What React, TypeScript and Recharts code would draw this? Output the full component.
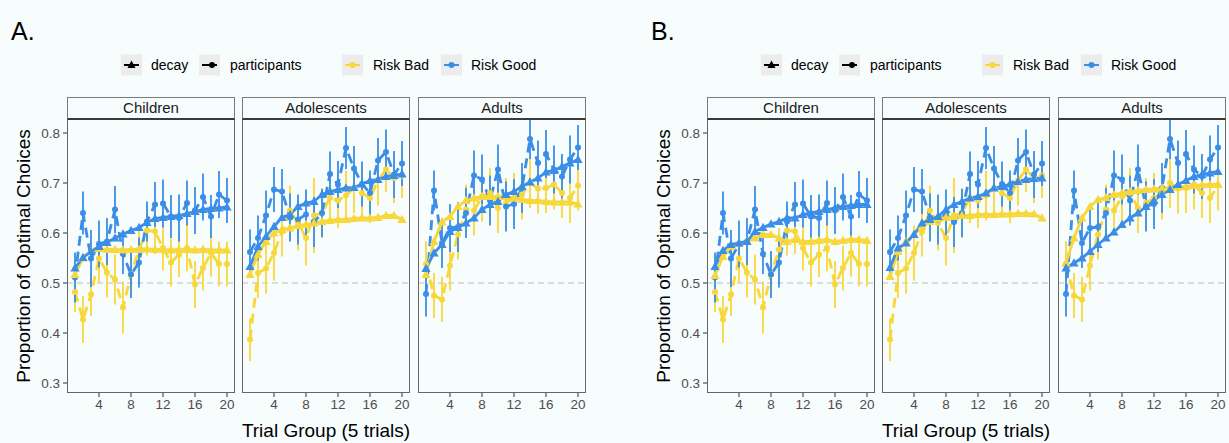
import React from 'react';
import { ComposedChart, Line, XAxis, YAxis, ErrorBar, ReferenceLine } from 'recharts';

const trialGroups = [1, 2, 3, 4, 5, 6, 7, 8, 9, 10, 11, 12, 13, 14, 15, 16, 17, 18, 19, 20];
const xTicks = [4, 8, 12, 16, 20];
const yTicks = [0.3, 0.4, 0.5, 0.6, 0.7, 0.8];
const facetNames = ['Children', 'Adolescents', 'Adults'];

// observed proportions (participants), same in both panels
const childrenGoodObs = [0.511, 0.64, 0.549, 0.578, 0.583, 0.647, 0.558, 0.517, 0.541, 0.623, 0.657, 0.659, 0.633, 0.63, 0.66, 0.645, 0.672, 0.633, 0.677, 0.665];
const childrenGoodErr = [0.05, 0.043, 0.057, 0.047, 0.047, 0.047, 0.04, 0.047, 0.05, 0.04, 0.045, 0.048, 0.043, 0.047, 0.045, 0.047, 0.047, 0.043, 0.047, 0.045];
const childrenBadObs = [0.482, 0.427, 0.477, 0.549, 0.521, 0.507, 0.451, 0.517, 0.567, 0.605, 0.603, 0.57, 0.541, 0.557, 0.57, 0.497, 0.53, 0.56, 0.538, 0.538];
const childrenBadErr = [0.04, 0.047, 0.043, 0.047, 0.05, 0.05, 0.052, 0.047, 0.043, 0.05, 0.045, 0.045, 0.048, 0.045, 0.047, 0.047, 0.045, 0.047, 0.045, 0.045];

const adolGoodObs = [0.562, 0.59, 0.635, 0.687, 0.683, 0.631, 0.627, 0.637, 0.622, 0.64, 0.718, 0.697, 0.77, 0.729, 0.698, 0.68, 0.745, 0.762, 0.717, 0.739];
const adolGoodErr = [0.045, 0.045, 0.05, 0.045, 0.045, 0.048, 0.05, 0.05, 0.05, 0.048, 0.045, 0.047, 0.042, 0.045, 0.045, 0.045, 0.045, 0.045, 0.047, 0.045];
const adolBadObs = [0.387, 0.52, 0.529, 0.56, 0.603, 0.645, 0.62, 0.59, 0.635, 0.64, 0.67, 0.665, 0.675, 0.69, 0.68, 0.67, 0.705, 0.727, 0.71, 0.715];
const adolBadErr = [0.043, 0.05, 0.05, 0.055, 0.05, 0.05, 0.055, 0.055, 0.075, 0.05, 0.05, 0.055, 0.05, 0.05, 0.05, 0.05, 0.05, 0.045, 0.05, 0.045];

const adultsGoodObs = [0.478, 0.685, 0.58, 0.61, 0.612, 0.64, 0.715, 0.707, 0.665, 0.727, 0.653, 0.658, 0.69, 0.788, 0.74, 0.758, 0.727, 0.713, 0.747, 0.771];
const adultsGoodErr = [0.045, 0.04, 0.05, 0.048, 0.05, 0.05, 0.05, 0.05, 0.05, 0.05, 0.05, 0.05, 0.05, 0.04, 0.045, 0.048, 0.048, 0.045, 0.048, 0.045];
const adultsBadObs = [0.538, 0.475, 0.467, 0.535, 0.597, 0.647, 0.645, 0.673, 0.68, 0.65, 0.66, 0.67, 0.677, 0.7, 0.689, 0.69, 0.697, 0.68, 0.67, 0.695];
const adultsBadErr = [0.045, 0.045, 0.045, 0.05, 0.05, 0.05, 0.05, 0.05, 0.05, 0.05, 0.05, 0.05, 0.05, 0.05, 0.05, 0.05, 0.05, 0.05, 0.05, 0.05];

// decay model, panel A
const decayAChildrenGood = [0.53, 0.551, 0.563, 0.573, 0.581, 0.59, 0.598, 0.605, 0.611, 0.621, 0.629, 0.631, 0.633, 0.635, 0.639, 0.643, 0.647, 0.649, 0.65, 0.652];
const decayAChildrenBad = [0.517, 0.55, 0.563, 0.569, 0.567, 0.567, 0.566, 0.567, 0.567, 0.568, 0.567, 0.567, 0.566, 0.567, 0.567, 0.566, 0.567, 0.566, 0.566, 0.566];
const decayAAdolGood = [0.533, 0.573, 0.593, 0.613, 0.631, 0.637, 0.653, 0.66, 0.663, 0.677, 0.683, 0.687, 0.69, 0.691, 0.698, 0.705, 0.707, 0.713, 0.715, 0.718];
const decayAAdolBad = [0.517, 0.557, 0.583, 0.6, 0.607, 0.61, 0.615, 0.617, 0.62, 0.623, 0.625, 0.627, 0.627, 0.629, 0.63, 0.63, 0.631, 0.635, 0.635, 0.627];
const decayAAdultsGood = [0.529, 0.56, 0.577, 0.603, 0.611, 0.62, 0.63, 0.647, 0.657, 0.663, 0.677, 0.683, 0.693, 0.702, 0.71, 0.722, 0.725, 0.733, 0.74, 0.747];
const decayAAdultsBad = [0.517, 0.583, 0.622, 0.633, 0.653, 0.665, 0.67, 0.673, 0.673, 0.673, 0.673, 0.67, 0.667, 0.665, 0.665, 0.663, 0.662, 0.662, 0.662, 0.658];

// decay model, panel B
const decayBChildrenGood = [0.533, 0.565, 0.577, 0.58, 0.583, 0.603, 0.611, 0.618, 0.623, 0.63, 0.63, 0.637, 0.64, 0.643, 0.647, 0.65, 0.653, 0.655, 0.657, 0.657];
const decayBChildrenBad = [0.515, 0.553, 0.573, 0.58, 0.583, 0.59, 0.597, 0.597, 0.59, 0.583, 0.587, 0.583, 0.583, 0.585, 0.587, 0.583, 0.585, 0.587, 0.587, 0.585];
const decayBAdolGood = [0.531, 0.57, 0.58, 0.597, 0.62, 0.627, 0.633, 0.647, 0.657, 0.663, 0.67, 0.673, 0.68, 0.69, 0.693, 0.698, 0.703, 0.707, 0.709, 0.71];
const decayBAdolBad = [0.513, 0.563, 0.583, 0.597, 0.613, 0.623, 0.629, 0.631, 0.633, 0.635, 0.635, 0.637, 0.637, 0.637, 0.638, 0.638, 0.639, 0.639, 0.638, 0.63];
const decayBAdultsGood = [0.53, 0.54, 0.55, 0.563, 0.577, 0.59, 0.602, 0.617, 0.63, 0.64, 0.653, 0.665, 0.677, 0.687, 0.697, 0.705, 0.713, 0.717, 0.72, 0.723];
const decayBAdultsBad = [0.54, 0.59, 0.63, 0.653, 0.667, 0.671, 0.677, 0.68, 0.683, 0.685, 0.687, 0.688, 0.69, 0.691, 0.692, 0.693, 0.695, 0.696, 0.697, 0.697];

const BLUE = '#3a8ee8';
const YELLOW = '#f8d73a';
const BG = '#f7fcfd';
const FONT = '"Liberation Sans", Arial, sans-serif';

const PANEL_W = 168;
const PANEL_H = 273;
const STRIP_TOP = 97;
const STRIP_H = 23;
const Y_AXIS_W = 34;
const X_AXIS_H = 26;

const buildRows = (gObs, gErr, bObs, bErr, dGood, dBad) =>
  trialGroups.map((t, i) => ({
    trial: t,
    pGood: gObs[i],
    pGoodErr: gErr[i],
    pBad: bObs[i],
    pBadErr: bErr[i],
    dGood: dGood[i],
    dBad: dBad[i],
  }));

const panelA = [
  buildRows(childrenGoodObs, childrenGoodErr, childrenBadObs, childrenBadErr, decayAChildrenGood, decayAChildrenBad),
  buildRows(adolGoodObs, adolGoodErr, adolBadObs, adolBadErr, decayAAdolGood, decayAAdolBad),
  buildRows(adultsGoodObs, adultsGoodErr, adultsBadObs, adultsBadErr, decayAAdultsGood, decayAAdultsBad),
];
const panelB = [
  buildRows(childrenGoodObs, childrenGoodErr, childrenBadObs, childrenBadErr, decayBChildrenGood, decayBChildrenBad),
  buildRows(adolGoodObs, adolGoodErr, adolBadObs, adolBadErr, decayBAdolGood, decayBAdolBad),
  buildRows(adultsGoodObs, adultsGoodErr, adultsBadObs, adultsBadErr, decayBAdultsGood, decayBAdultsBad),
];

const triangle = (color) => (p) => {
  const { cx, cy, key } = p;
  if (cx == null || cy == null) return <g key={key} />;
  return <path key={key} d={`M${cx},${cy - 4.8}L${cx + 4.6},${cy + 3.4}L${cx - 4.6},${cy + 3.4}Z`} fill={color} />;
};

function Facet({ left, name, rows, showY }) {
  const yw = showY ? Y_AXIS_W : 0;
  return (
    <div style={{ position: 'absolute', left: left - yw, top: STRIP_TOP }}>
      <div
        style={{
          marginLeft: yw,
          width: PANEL_W,
          height: STRIP_H,
          boxSizing: 'border-box',
          border: '1px solid #7a7a7a',
          borderBottom: '2px solid #3a3a3a',
          textAlign: 'center',
          lineHeight: '20px',
          fontSize: 15,
          color: '#1a1a1a',
        }}
      >
        {name}
      </div>
      <div style={{ position: 'relative' }}>
        <ComposedChart width={PANEL_W + yw} height={PANEL_H + X_AXIS_H} data={rows} margin={{ top: 0, right: 0, bottom: 0, left: 0 }}>
          <XAxis
            dataKey="trial"
            type="number"
            domain={[0, 21]}
            ticks={xTicks}
            height={X_AXIS_H}
            axisLine={false}
            tickLine={{ stroke: '#333' }}
            tickSize={4}
            tickMargin={2}
            tick={{ fill: '#4d4d4d', fontSize: 13.5, fontFamily: FONT }}
          />
          <YAxis
            hide={!showY}
            width={Y_AXIS_W}
            type="number"
            domain={[0.28, 0.826]}
            ticks={yTicks}
            allowDataOverflow
            axisLine={false}
            tickLine={{ stroke: '#333' }}
            tickSize={4}
            tickMargin={3}
            tickFormatter={(v) => v.toFixed(1)}
            tick={{ fill: '#4d4d4d', fontSize: 13.5, fontFamily: FONT }}
          />
          <ReferenceLine y={0.5} stroke="#bdbdbd" strokeDasharray="6 4" strokeWidth={1} />
          <Line dataKey="pBad" stroke={YELLOW} strokeWidth={2.8} strokeDasharray="10 6" dot={{ r: 3, fill: YELLOW, stroke: 'none' }} isAnimationActive={false}>
            <ErrorBar dataKey="pBadErr" width={0} stroke={YELLOW} strokeWidth={2} strokeOpacity={0.9} direction="y" />
          </Line>
          <Line dataKey="pGood" stroke={BLUE} strokeWidth={2.8} strokeDasharray="10 6" dot={{ r: 3, fill: BLUE, stroke: 'none' }} isAnimationActive={false}>
            <ErrorBar dataKey="pGoodErr" width={0} stroke={BLUE} strokeWidth={2} strokeOpacity={0.9} direction="y" />
          </Line>
          <Line dataKey="dBad" stroke={YELLOW} strokeWidth={2.8} dot={triangle(YELLOW)} isAnimationActive={false} />
          <Line dataKey="dGood" stroke={BLUE} strokeWidth={2.8} dot={triangle(BLUE)} isAnimationActive={false} />
        </ComposedChart>
        <div
          style={{
            position: 'absolute',
            left: yw,
            top: 0,
            width: PANEL_W,
            height: PANEL_H,
            boxSizing: 'border-box',
            border: '1px solid #666',
            borderTop: 'none',
            pointerEvents: 'none',
          }}
        />
      </div>
    </div>
  );
}

function Legend({ ox }) {
  const cy = 65;
  const key = (x) => <rect x={x + ox} y={cy - 10.5} width={21} height={21} fill="#ececec" />;
  return (
    <g fontFamily={FONT} fontSize={14} fill="#000">
      {key(121)}
      <line x1={124 + ox} x2={139 + ox} y1={cy} y2={cy} stroke="#000" strokeWidth={2} />
      <path d={`M${131.5 + ox},${cy - 4.5}L${135.5 + ox},${cy + 3}L${127.5 + ox},${cy + 3}Z`} fill="#000" />
      <text x={151 + ox} y={cy + 5}>decay</text>
      {key(199)}
      <line x1={202 + ox} x2={217 + ox} y1={cy} y2={cy} stroke="#000" strokeWidth={2} />
      <circle cx={212 + ox} cy={cy} r={3} fill="#000" />
      <text x={230 + ox} y={cy + 5}>participants</text>
      {key(342)}
      <line x1={345 + ox} x2={360 + ox} y1={cy} y2={cy} stroke={YELLOW} strokeWidth={2} />
      <circle cx={352.5 + ox} cy={cy} r={3} fill={YELLOW} />
      <text x={373 + ox} y={cy + 5}>Risk Bad</text>
      {key(441)}
      <line x1={444 + ox} x2={459 + ox} y1={cy} y2={cy} stroke={BLUE} strokeWidth={2} />
      <circle cx={451.5 + ox} cy={cy} r={3} fill={BLUE} />
      <text x={471 + ox} y={cy + 5}>Risk Good</text>
    </g>
  );
}

function Panel({ ox, data }) {
  const lefts = [67, 242, 418];
  return (
    <>
      {facetNames.map((n, i) => (
        <Facet key={n} left={lefts[i] + ox} name={n} rows={data[i]} showY={i === 0} />
      ))}
    </>
  );
}

export default function App() {
  return (
    <div style={{ position: 'absolute', left: 0, top: 0, width: 1229, height: 443, background: BG, fontFamily: FONT, overflow: 'hidden' }}>
      <svg width={1229} height={443} style={{ position: 'absolute', left: 0, top: 0 }}>
        {[0, 640].map((ox, k) => (
          <g key={ox} fontFamily={FONT}>
            <text x={11 + ox} y={40} fontSize={25}>{k === 0 ? 'A.' : 'B.'}</text>
            <Legend ox={ox} />
            <text x={30 + ox} y={256} fontSize={19} textAnchor="middle" transform={`rotate(-90 ${30 + ox} 256)`}>
              Proportion of Optimal Choices
            </text>
            <text x={326 + ox} y={437} fontSize={19} textAnchor="middle">Trial Group (5 trials)</text>
          </g>
        ))}
      </svg>
      <Panel ox={0} data={panelA} />
      <Panel ox={640} data={panelB} />
    </div>
  );
}
